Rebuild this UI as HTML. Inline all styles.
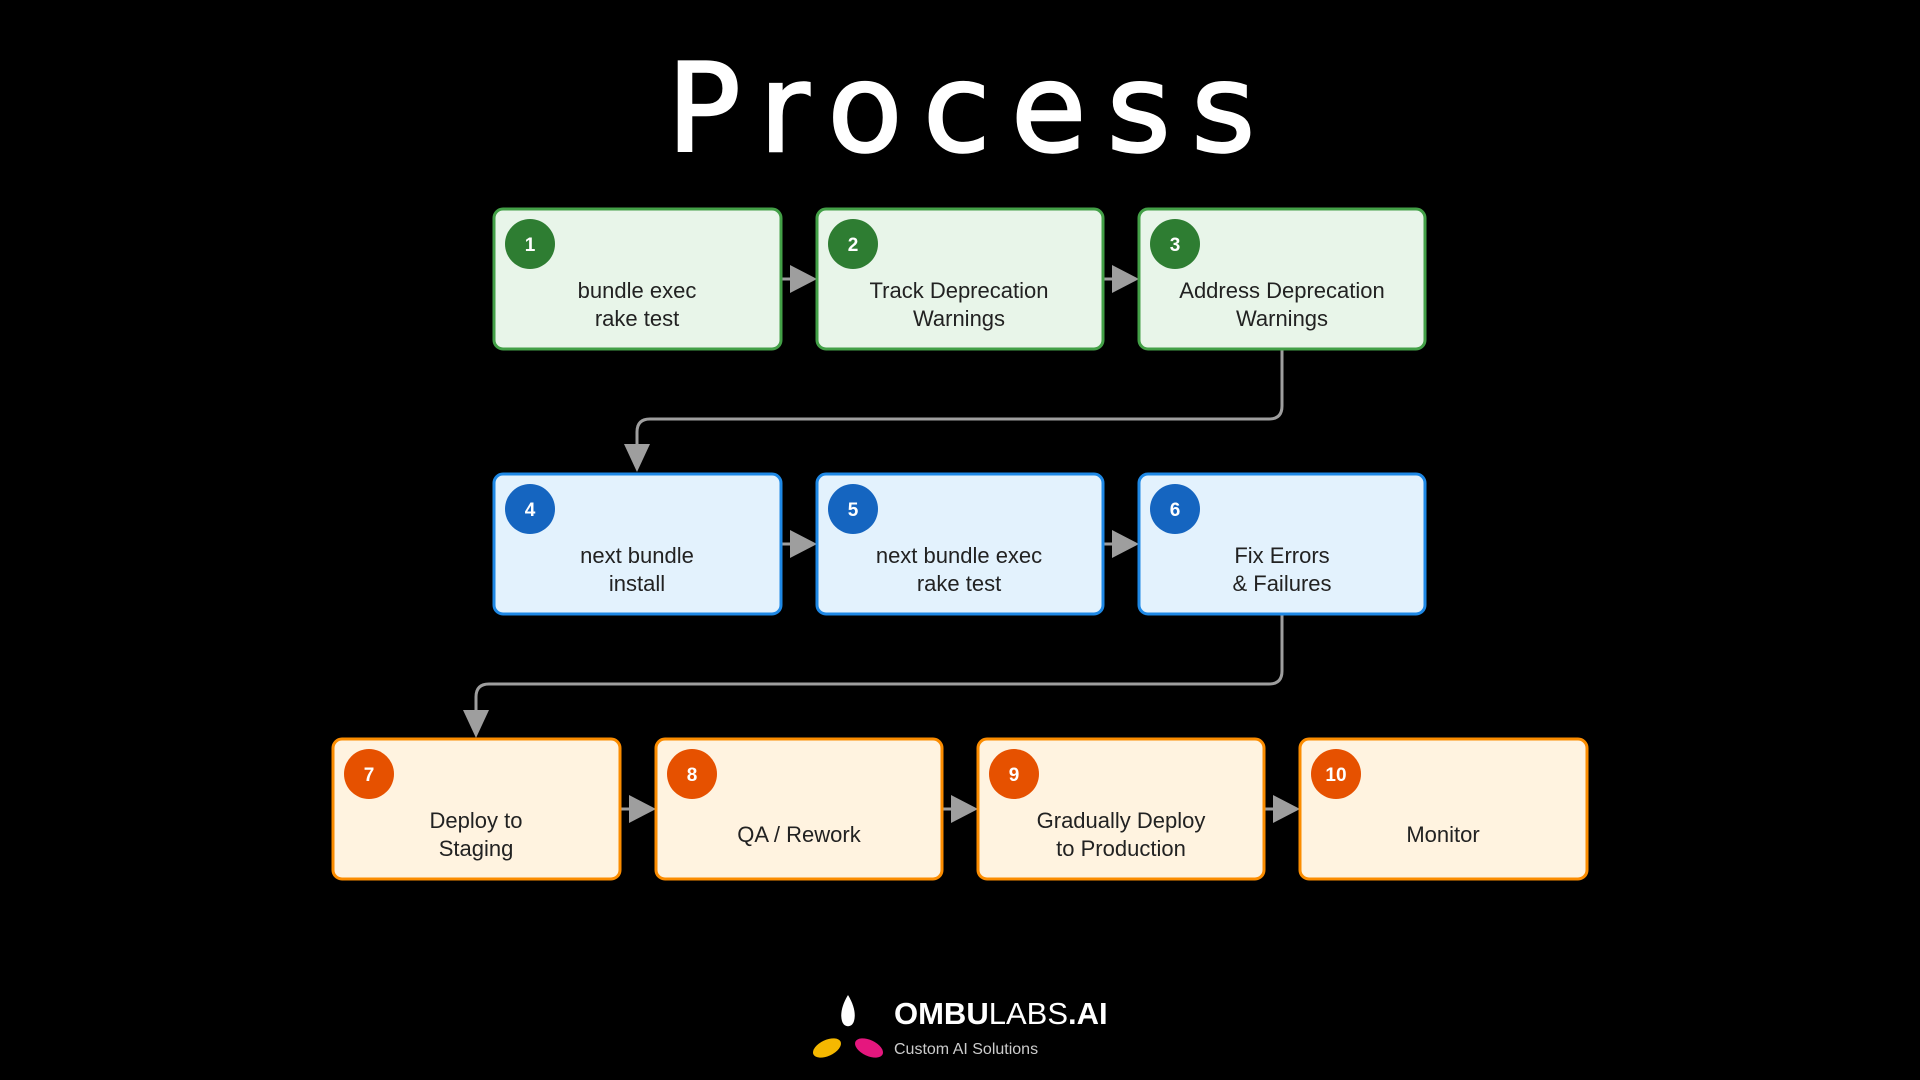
<!DOCTYPE html>
<html><head><meta charset="utf-8"><style>
html,body{margin:0;padding:0;background:#000;width:1920px;height:1080px;overflow:hidden}
svg{display:block}
text{font-family:"Liberation Sans",sans-serif}
</style></head><body>
<svg width="1920" height="1080" viewBox="0 0 1920 1080" xmlns="http://www.w3.org/2000/svg">
<text x="667" y="151" fill="#fff" stroke="#fff" stroke-width="2.5" font-size="122" textLength="588" lengthAdjust="spacing" style="font-family:'DejaVu Sans','Liberation Sans',sans-serif">Process</text>

<g stroke="#9e9e9e" stroke-width="3" fill="none">
<path d="M1282 350 V406 Q1282 419 1269 419 H650 Q637 419 637 432 V450"/>
<path d="M1282 614 V671 Q1282 684 1269 684 H489 Q476 684 476 697 V716"/>
<path d="M781 279 H792"/><path d="M1103 279 H1114"/>
<path d="M781 544 H792"/><path d="M1103 544 H1114"/>
<path d="M620 809 H631"/><path d="M942 809 H953"/><path d="M1264 809 H1275"/>
</g>
<g fill="#9e9e9e">
<polygon points="624,444 650,444 637,472"/>
<polygon points="463,710 489,710 476,738"/>
<polygon points="790,265 817,279 790,293"/><polygon points="1112,265 1139,279 1112,293"/>
<polygon points="790,530 817,544 790,558"/><polygon points="1112,530 1139,544 1112,558"/>
<polygon points="629,795 656,809 629,823"/><polygon points="951,795 978,809 951,823"/><polygon points="1273,795 1300,809 1273,823"/>
</g>

<g font-size="22" fill="#222" text-anchor="middle">
<g fill="#e8f5e9" stroke="#43a047" stroke-width="3">
<rect x="494" y="209" width="287" height="140" rx="9"/>
<rect x="817" y="209" width="286" height="140" rx="9"/>
<rect x="1139" y="209" width="286" height="140" rx="9"/>
</g>
<g fill="#2e7d32"><circle cx="530" cy="244" r="25"/><circle cx="853" cy="244" r="25"/><circle cx="1175" cy="244" r="25"/></g>
<g fill="#fff" font-size="19" font-weight="bold"><text x="530" y="251">1</text><text x="853" y="251">2</text><text x="1175" y="251">3</text></g>
<text x="637" y="298">bundle exec</text><text x="637" y="326">rake test</text>
<text x="959" y="298">Track Deprecation</text><text x="959" y="326">Warnings</text>
<text x="1282" y="298">Address Deprecation</text><text x="1282" y="326">Warnings</text>

<g fill="#e3f2fd" stroke="#1e88e5" stroke-width="3">
<rect x="494" y="474" width="287" height="140" rx="9"/>
<rect x="817" y="474" width="286" height="140" rx="9"/>
<rect x="1139" y="474" width="286" height="140" rx="9"/>
</g>
<g fill="#1565c0"><circle cx="530" cy="509" r="25"/><circle cx="853" cy="509" r="25"/><circle cx="1175" cy="509" r="25"/></g>
<g fill="#fff" font-size="19" font-weight="bold"><text x="530" y="516">4</text><text x="853" y="516">5</text><text x="1175" y="516">6</text></g>
<text x="637" y="563">next bundle</text><text x="637" y="591">install</text>
<text x="959" y="563">next bundle exec</text><text x="959" y="591">rake test</text>
<text x="1282" y="563">Fix Errors</text><text x="1282" y="591">&amp; Failures</text>

<g fill="#fff3e0" stroke="#fb8c00" stroke-width="3">
<rect x="333" y="739" width="287" height="140" rx="9"/>
<rect x="656" y="739" width="286" height="140" rx="9"/>
<rect x="978" y="739" width="286" height="140" rx="9"/>
<rect x="1300" y="739" width="287" height="140" rx="9"/>
</g>
<g fill="#e65100"><circle cx="369" cy="774" r="25"/><circle cx="692" cy="774" r="25"/><circle cx="1014" cy="774" r="25"/><circle cx="1336" cy="774" r="25"/></g>
<g fill="#fff" font-size="19" font-weight="bold"><text x="369" y="781">7</text><text x="692" y="781">8</text><text x="1014" y="781">9</text><text x="1336" y="781">10</text></g>
<text x="476" y="828">Deploy to</text><text x="476" y="856">Staging</text>
<text x="799" y="842">QA / Rework</text>
<text x="1121" y="828">Gradually Deploy</text><text x="1121" y="856">to Production</text>
<text x="1443" y="842">Monitor</text>
</g>

<path d="M848 995 C842 1005 840 1014 842 1021 C844 1028 852 1028 854 1021 C856 1014 854 1005 848 995 Z" fill="#fff"/>
<ellipse cx="827" cy="1048" rx="15" ry="8" transform="rotate(-25 827 1048)" fill="#f5b800"/>
<ellipse cx="869" cy="1048" rx="15" ry="8" transform="rotate(25 869 1048)" fill="#e5177e"/>
<text x="894" y="1024" fill="#fff" font-size="31"><tspan font-weight="bold">OMBU</tspan>LABS<tspan font-weight="bold">.AI</tspan></text>
<text x="894" y="1054" fill="#ccc" font-size="16">Custom AI Solutions</text>
</svg>
</body></html>
